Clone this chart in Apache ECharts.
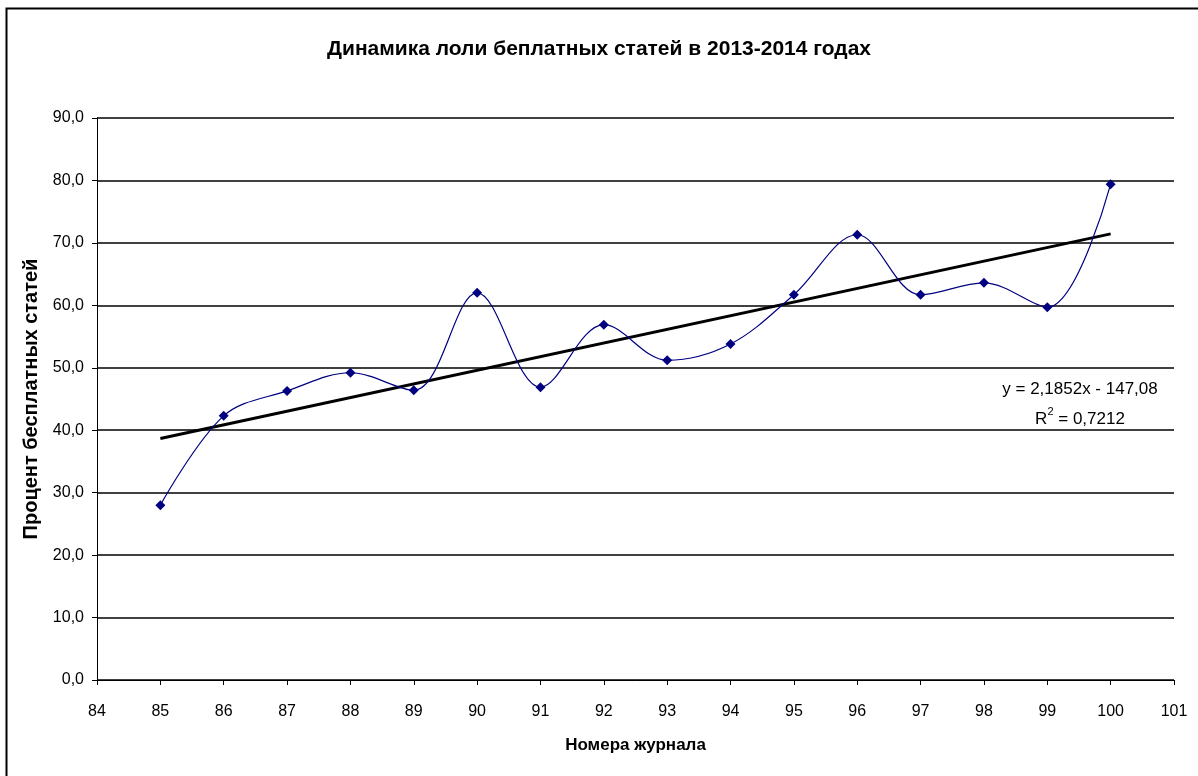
<!DOCTYPE html>
<html><head><meta charset="utf-8">
<script src="https://cdn.jsdelivr.net/npm/echarts@6/dist/echarts.min.js"></script>
<style>html,body{margin:0;padding:0;background:#fff}#c{width:1198px;height:776px}</style>
</head><body><div id="c"></div>
<script>
const titleText = 'Динамика лоли беплатных статей в 2013-2014 годах';
const xName = 'Номера журнала';
const yName = 'Процент бесплатных статей';
const issues = [85, 86, 87, 88, 89, 90, 91, 92, 93, 94, 95, 96, 97, 98, 99, 100];
const shares = [28.0, 42.3, 46.3, 49.2, 46.4, 62.0, 46.9, 56.9, 51.2, 53.8, 61.7, 71.3, 61.7, 63.6, 59.7, 79.4];
const trendX = [85, 100];
const trendY = [38.66, 71.44];
const eqLine = 'y = 2,1852x - 147,08';
const r2Value = '0,7212';

const font = '"Liberation Sans", Arial, sans-serif';
const chart = echarts.init(document.getElementById('c'));
chart.setOption({
  animation: false,
  backgroundColor: '#fff',
  title: {text: titleText, left: 'center', top: 34,
    textStyle: {fontFamily: font, fontSize: 21, fontWeight: 'bold', color: '#000'}},
  grid: {left: 97, right: 24, top: 118, bottom: 96, containLabel: false},
  xAxis: {type: 'value', min: 84, max: 101, interval: 1,
    name: xName, nameLocation: 'middle', nameGap: 57,
    nameTextStyle: {fontFamily: font, fontSize: 17, fontWeight: 'bold', color: '#000'},
    axisLine: {lineStyle: {color: '#000', width: 1}},
    axisTick: {show: true, length: 5, lineStyle: {color: '#000'}},
    axisLabel: {fontFamily: font, fontSize: 16, color: '#000', margin: 24},
    splitLine: {show: false}},
  yAxis: {type: 'value', min: 0, max: 90, interval: 10,
    name: yName, nameLocation: 'middle', nameGap: 47, nameRotate: 90,
    nameTextStyle: {fontFamily: font, fontSize: 20, fontWeight: 'bold', color: '#000'},
    axisLine: {show: true, lineStyle: {color: '#000', width: 1}},
    axisTick: {show: true, length: 5, lineStyle: {color: '#000'}},
    axisLabel: {fontFamily: font, fontSize: 16, color: '#000', margin: 13,
      formatter: v => v.toFixed(1).replace('.', ',')},
    splitLine: {show: true, lineStyle: {color: '#000', width: 1.5}}},
  series: [
    {type: 'line', data: issues.map((x, i) => [x, shares[i]]), smooth: 0.35,
      symbol: 'diamond', symbolSize: 10,
      lineStyle: {color: '#000080', width: 1.2}, itemStyle: {color: '#000080'}, z: 3},
    {type: 'line', data: trendX.map((x, i) => [x, trendY[i]]), symbol: 'none',
      lineStyle: {color: '#000', width: 3}, z: 2}
  ],
  graphic: [
    {type: 'rect', shape: {x: 6.5, y: 8.5, width: 1200, height: 800},
      style: {fill: 'none', stroke: '#000', lineWidth: 2}, silent: true},
    {type: 'text', x: 1080, y: 389,
      style: {text: eqLine, font: '17px ' + font, fill: '#000', align: 'center', verticalAlign: 'middle'}},
    {type: 'text', x: 1080, y: 417,
      style: {text: '{a|R}{s|2}{a| = ' + r2Value + '}', align: 'center', verticalAlign: 'middle',
        rich: {a: {fontFamily: font, fontSize: 17, fill: '#000', verticalAlign: 'bottom', lineHeight: 22},
               s: {fontFamily: font, fontSize: 11, fill: '#000', verticalAlign: 'top', lineHeight: 22}}}}
  ]
});
</script></body></html>
